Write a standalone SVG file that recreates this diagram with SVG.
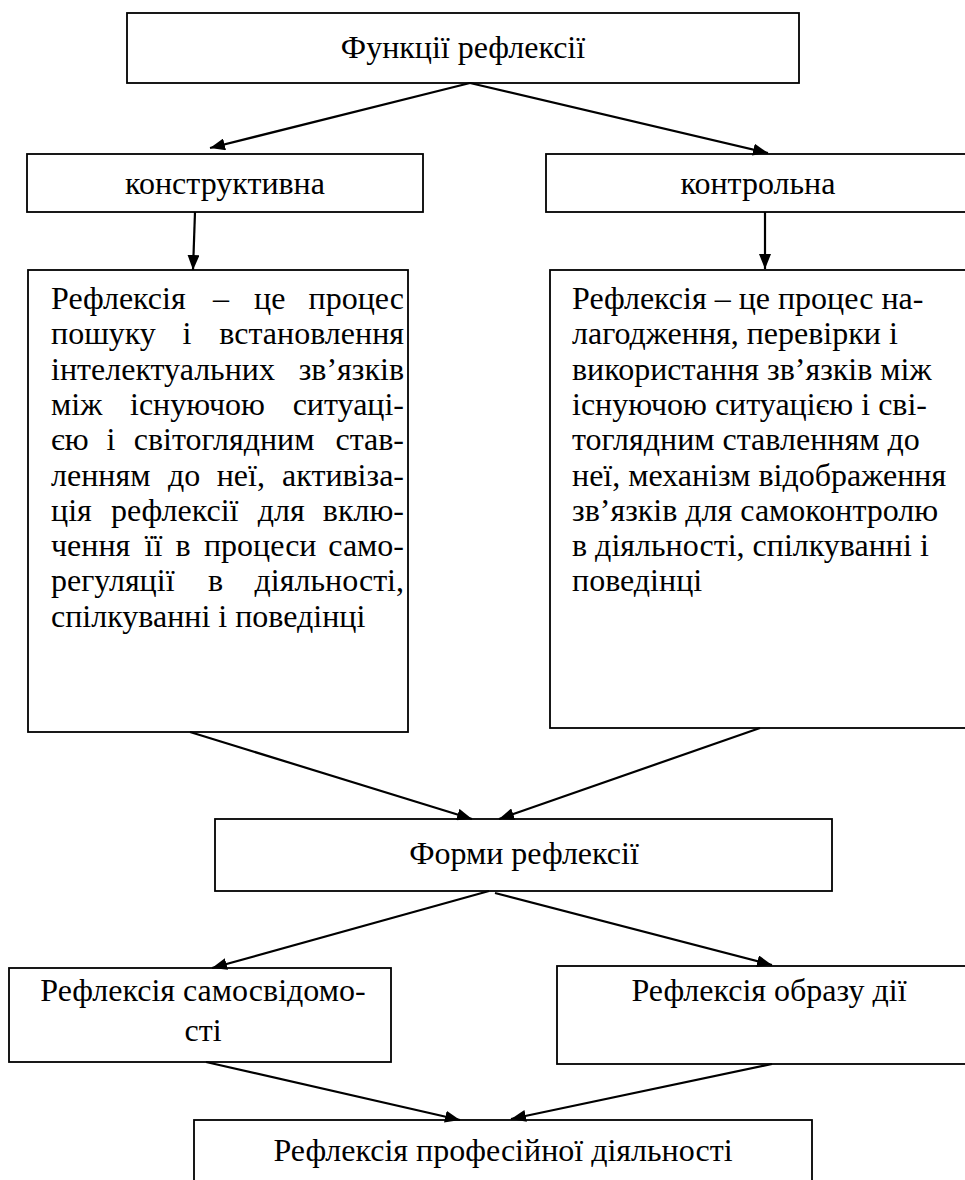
<svg xmlns="http://www.w3.org/2000/svg" width="965" height="1180" viewBox="0 0 965 1180">
<style>
.box{fill:#fff;stroke:#000;stroke-width:1.8}
.t{font-family:"Liberation Serif","Times New Roman",serif;font-size:32px;fill:#000}
.c{text-anchor:middle}
.e{text-anchor:end}
.conn line{stroke:#000;stroke-width:2.2;marker-end:url(#ah)}
</style>
<defs>
<marker id="ah" viewBox="0 0 15 12" refX="15" refY="6" markerWidth="15" markerHeight="12" orient="auto" markerUnits="userSpaceOnUse">
<path d="M0,0 L15,6 L0,12 z" fill="#000"/>
</marker>
</defs>
<rect width="965" height="1180" fill="#fff"/>

<g id="n-functions">
<rect class="box" x="127" y="13" width="672" height="70"/>
<text class="t c" x="463" y="58">Функції рефлексії</text>
</g>

<g id="n-constructive">
<rect class="box" x="27" y="154" width="396" height="58"/>
<text class="t c" x="225" y="194">конструктивна</text>
</g>

<g id="n-control">
<rect class="box" x="546" y="154" width="430" height="58"/>
<text class="t c" x="758" y="194">контрольна</text>
</g>

<g id="n-constructive-text">
<rect class="box" x="28" y="270" width="380" height="462"/>
<text class="t" y="309"><tspan x="51">Рефлексія</tspan><tspan x="213">–</tspan><tspan x="254">це</tspan></text>
<text class="t e" x="404" y="309">процес</text>
<text class="t" y="344.3"><tspan x="51">пошуку</tspan><tspan x="182.5">і</tspan></text>
<text class="t e" x="404" y="344.3">встановлення</text>
<text class="t" x="51" y="379.6">інтелектуальних</text>
<text class="t e" x="404" y="379.6">зв’язків</text>
<text class="t" y="414.9"><tspan x="51">між</tspan><tspan x="130">існуючою</tspan></text>
<text class="t e" x="404" y="414.9">ситуаці-</text>
<text class="t" y="450.2"><tspan x="51">єю</tspan><tspan x="106.5">і</tspan><tspan x="133.7">світоглядним</tspan></text>
<text class="t e" x="404" y="450.2">став-</text>
<text class="t" y="485.5"><tspan x="51">ленням</tspan><tspan x="168">до</tspan><tspan x="216.7">неї,</tspan></text>
<text class="t e" x="404" y="485.5">активіза-</text>
<text class="t" y="520.8"><tspan x="51">ція</tspan><tspan x="111">рефлексії</tspan><tspan x="257.7">для</tspan></text>
<text class="t e" x="404" y="520.8">вклю-</text>
<text class="t" y="556.1"><tspan x="51">чення</tspan><tspan x="144.6">її</tspan><tspan x="175.6">в</tspan><tspan x="203.9">процеси</tspan></text>
<text class="t e" x="404" y="556.1">само-</text>
<text class="t" y="591.4"><tspan x="51">регуляції</tspan><tspan x="208">в</tspan></text>
<text class="t e" x="404" y="591.4">діяльності,</text>
<text class="t" x="51" y="626.7">спілкуванні і поведінці</text>
</g>

<g id="n-control-text">
<rect class="box" x="550" y="270" width="426" height="458"/>
<text class="t" x="572" y="309">Рефлексія – це процес на-</text>
<text class="t" x="572" y="344.3">лагодження, перевірки і</text>
<text class="t" x="572" y="379.6">використання зв’язків між</text>
<text class="t" x="572" y="414.9">існуючою ситуацією і сві-</text>
<text class="t" x="572" y="450.2">тоглядним ставленням до</text>
<text class="t" x="572" y="485.5">неї, механізм відображення</text>
<text class="t" x="572" y="520.8">зв’язків для самоконтролю</text>
<text class="t" x="572" y="556.1">в діяльності, спілкуванні і</text>
<text class="t" x="572" y="591.4">поведінці</text>
</g>

<g id="n-forms">
<rect class="box" x="215" y="819" width="617" height="72"/>
<text class="t c" x="524" y="864">Форми рефлексії</text>
</g>

<g id="n-selfawareness">
<rect class="box" x="9" y="968" width="382" height="94"/>
<text class="t c" x="203" y="1001">Рефлексія самосвідомо-</text>
<text class="t c" x="203" y="1041">сті</text>
</g>

<g id="n-action">
<rect class="box" x="557" y="966" width="420" height="98"/>
<text class="t c" x="769" y="1001">Рефлексія образу дії</text>
</g>

<g id="n-professional">
<rect class="box" x="194" y="1120" width="618" height="75"/>
<text class="t c" x="503" y="1161">Рефлексія професійної діяльності</text>
</g>

<g id="connectors" class="conn">
<line x1="470" y1="83" x2="210" y2="148"/>
<line x1="470" y1="83" x2="768" y2="153"/>
<line x1="195" y1="212" x2="193" y2="270"/>
<line x1="765" y1="212" x2="765" y2="269"/>
<line x1="190" y1="732" x2="472" y2="819"/>
<line x1="760" y1="728" x2="499" y2="819"/>
<line x1="489" y1="891" x2="212" y2="968"/>
<line x1="495" y1="893" x2="772" y2="965"/>
<line x1="206" y1="1062" x2="460" y2="1120"/>
<line x1="772" y1="1064" x2="511" y2="1119"/>
</g>
</svg>
